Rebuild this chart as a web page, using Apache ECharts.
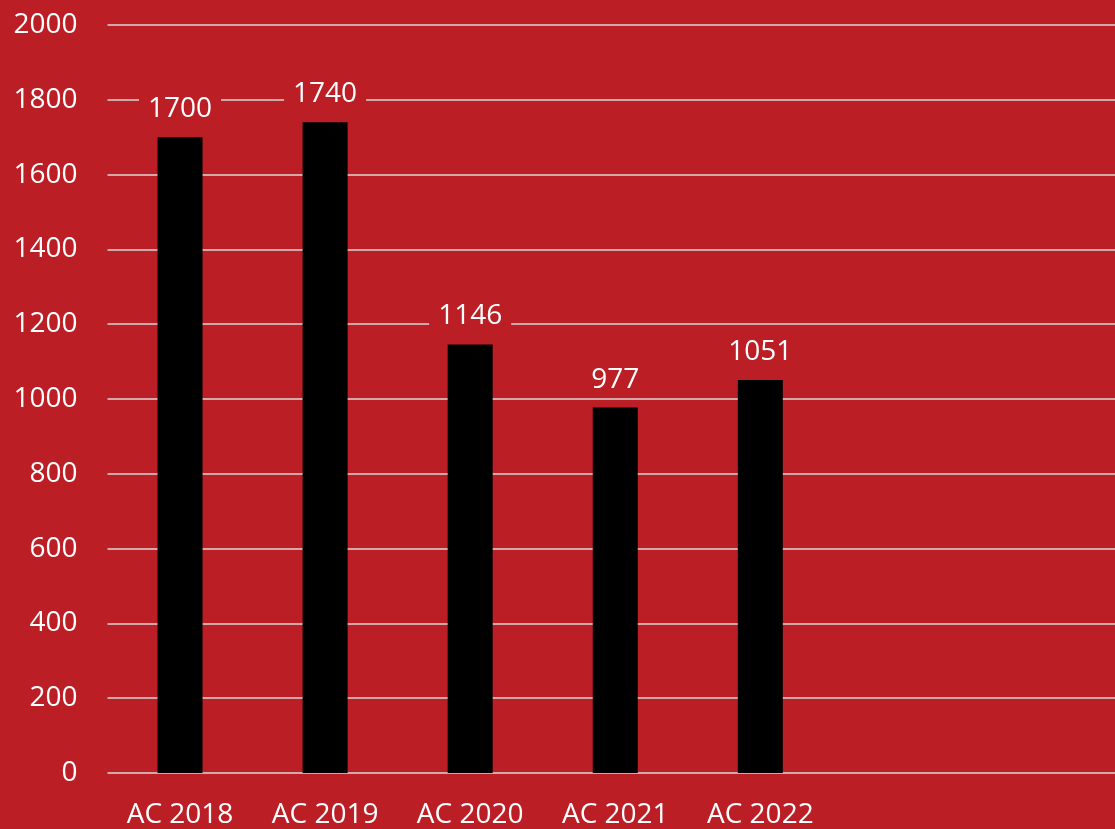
<!DOCTYPE html>
<html>
<head>
<meta charset="utf-8">
<style>
  html, body { margin: 0; padding: 0; background: #bb1e24; overflow: hidden; }
  /* the plot area runs a little past the right edge of the picture */
  #chart { width: 1123px; height: 829px; }
</style>
<script src="https://cdn.jsdelivr.net/npm/echarts@6/dist/echarts.min.js"></script>
</head>
<body>
<div id="chart"></div>
<script>
// categories (two empty slots at the right, as in the original)
var categories = ['AC 2018', 'AC 2019', 'AC 2020', 'AC 2021', 'AC 2022', '', ''];
var values = [1700, 1740, 1146, 977, 1051];
var yTicks = [0, 200, 400, 600, 800, 1000, 1200, 1400, 1600, 1800, 2000];

var red = '#bb1e24';
var myChart = echarts.init(document.getElementById('chart'));

var option = {
    backgroundColor: red,
    animation: false,
    textStyle: { fontFamily: 'Open Sans' },
    grid: { left: 107.5, right: 0, top: 25, bottom: 56 },
    xAxis: {
        type: 'category',
        data: categories,
        axisLine: { show: false },
        axisTick: { show: false },
        axisLabel: { color: '#fff', fontSize: 28, margin: 28 }
    },
    yAxis: {
        type: 'value',
        min: yTicks[0],
        max: yTicks[yTicks.length - 1],
        interval: 200,
        axisLine: { show: false },
        axisTick: { show: false },
        axisLabel: {
            color: '#fff', fontSize: 28, margin: 30,
            formatter: function (v) { return String(v); }
        },
        splitLine: { lineStyle: { color: '#d9d9d9', width: 1.5 } }
    },
    series: [{
        type: 'bar',
        data: values,
        barWidth: 45,
        itemStyle: { color: '#000' },
        label: {
            show: true,
            position: 'top',
            distance: 12,
            color: '#fff',
            fontSize: 28,
            lineHeight: 32,
            backgroundColor: red,
            padding: [0, 9]
        }
    }]
};

myChart.setOption(option);
</script>
</body>
</html>
